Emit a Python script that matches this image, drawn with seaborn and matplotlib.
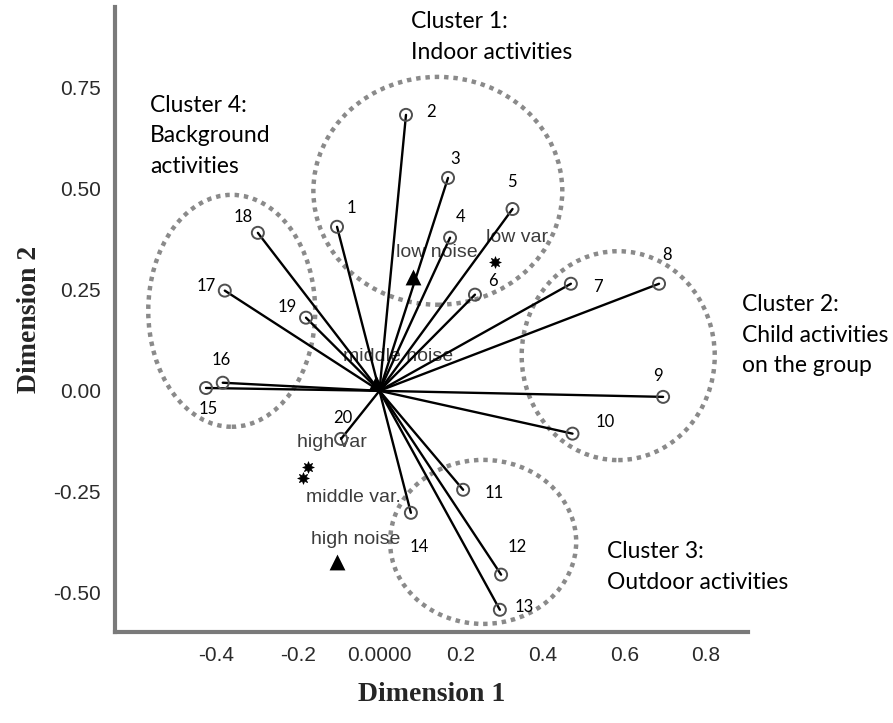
import numpy as np
import pandas as pd
import matplotlib
matplotlib.use("Agg")
import matplotlib.pyplot as plt
import seaborn as sns
from matplotlib.patches import Ellipse

# activity vectors (Dimension 1, Dimension 2)
activity_ids = [str(i) for i in range(1, 21)]
dim1 = [-0.104, 0.065, 0.168, 0.173, 0.326, 0.234, 0.469, 0.685, 0.695, 0.473,
        0.205, 0.298, 0.295, 0.077, -0.425, -0.384, -0.379, -0.298, -0.180, -0.094]
dim2 = [0.406, 0.683, 0.527, 0.379, 0.450, 0.238, 0.265, 0.265, -0.015, -0.106,
        -0.245, -0.455, -0.542, -0.302, 0.007, 0.020, 0.248, 0.391, 0.181, -0.119]

# supplementary category points
noise_names = ["low noise", "middle noise", "high noise"]
noise_dim1 = [0.082, -0.009, -0.104]
noise_dim2 = [0.282, 0.020, -0.423]
var_names = ["low var", "high var", "middle var."]
var_dim1 = [0.283, -0.175, -0.188]
var_dim2 = [0.319, -0.188, -0.215]

x_ticks = [-0.4, -0.2, 0.0, 0.2, 0.4, 0.6, 0.8]
x_ticklabels = ["-0.4", "-0.2", "0.0000", "0.2", "0.4", "0.6", "0.8"]
y_ticks = [-0.50, -0.25, 0.0, 0.25, 0.50, 0.75]
y_ticklabels = ["-0.50", "-0.25", "0.00", "0.25", "0.50", "0.75"]

cluster_texts = ["Cluster 1:\nIndoor activities",
                 "Cluster 2:\nChild activities\non the group",
                 "Cluster 3:\nOutdoor activities",
                 "Cluster 4:\nBackground\nactivities"]

# label offsets in pixels (x right, y up)
id_offsets = [(14, 19), (25, 3), (7, 19), (11, 21), (-1, 27), (18, 14), (27, -3),
              (8, 29), (-5, 21), (33, 12), (31, -3), (16, 28), (24, 3), (8, -34),
              (2, -21), (-2, 23), (-19, 5), (-15, 16), (-19, 11), (2, 21)]
noise_offsets = [(24, 24), (22, 26), (19, 22)]
var_offsets = [(22, 24), (24, 24), (51, -20)]

# dotted cluster outlines: (cx, cy, width, height) in data units
ellipses = [(0.143, 0.495, 0.610, 0.564),
            (0.585, 0.087, 0.473, 0.517),
            (0.254, -0.374, 0.456, 0.406),
            (-0.362, 0.198, 0.409, 0.574)]
# cluster text anchors in figure pixels (left, vertical centre)
text_pos = [(411, 37), (742, 335), (607, 567), (150, 136)]

sns.set_style("white")
plt.rcParams["font.family"] = ["Liberation Sans", "DejaVu Sans"]

W, H = 893, 723
fig = plt.figure(figsize=(W / 100, H / 100), dpi=100)
ax = fig.add_axes([115 / W, (H - 632) / H, (748 - 115) / W, (632 - 7) / H])

# vectors from the origin
seg = pd.DataFrame({
    "x": np.ravel([[0.0, a] for a in dim1]),
    "y": np.ravel([[0.0, b] for b in dim2]),
    "id": np.repeat(activity_ids, 2),
})
sns.lineplot(data=seg, x="x", y="y", units="id", estimator=None, sort=False,
             color="black", linewidth=1.7, ax=ax, zorder=3)

sns.scatterplot(x=dim1, y=dim2, marker="o", s=75, facecolors="none",
                edgecolor="#505050", linewidth=1.4, ax=ax, zorder=4)
sns.scatterplot(x=noise_dim1, y=noise_dim2, marker="^", s=130, color="black",
                edgecolor="black", linewidth=0, ax=ax, zorder=2)
sns.scatterplot(x=var_dim1, y=var_dim2, marker=(8, 1, 0), s=70, color="black",
                edgecolor="black", linewidth=0.5, ax=ax, zorder=2)

for i, lab in enumerate(activity_ids):
    ax.annotate(lab, (dim1[i], dim2[i]), xytext=id_offsets[i], textcoords="offset pixels",
                ha="center", va="center", fontsize=12, family=["Lato", "DejaVu Sans"],
                color="black", zorder=6)
for names, xs, ys, offs in [(noise_names, noise_dim1, noise_dim2, noise_offsets),
                            (var_names, var_dim1, var_dim2, var_offsets)]:
    for n, a, b, o in zip(names, xs, ys, offs):
        ax.annotate(n, (a, b), xytext=o, textcoords="offset pixels", ha="center",
                    va="center", fontsize=14, color="#3c3c3c", zorder=2)

for cx, cy, w, h in ellipses:
    ax.add_patch(Ellipse((cx, cy), w, h, fill=False, edgecolor="#8a8a8a",
                         linewidth=3.2, linestyle=(0, (1, 1.1)), zorder=1, clip_on=False))

for t, (px, py) in zip(cluster_texts, text_pos):
    fig.text(px / W, 1 - py / H, t, ha="left", va="center", fontsize=16.5,
             family=["Lato", "DejaVu Sans"], linespacing=1.58, color="black")

ax.set_xlim(-0.648, 0.903)
ax.set_ylim(-0.597, 0.950)
ax.set_xticks(x_ticks)
ax.set_xticklabels(x_ticklabels)
ax.set_yticks(y_ticks)
ax.set_yticklabels(y_ticklabels)
ax.tick_params(direction="out", length=8, width=1.5, color="#333333",
               labelsize=15, labelcolor="#2a2a2a", pad=2)

for s in ["top", "right"]:
    ax.spines[s].set_visible(False)
for s in ["left", "bottom"]:
    ax.spines[s].set_color("#7a7a7a")
    ax.spines[s].set_linewidth(3)

ax.set_xlabel("Dimension 1", fontsize=20, fontweight="bold",
              family=["Liberation Serif", "DejaVu Serif"], labelpad=12)
ax.set_ylabel("Dimension 2", fontsize=20, fontweight="bold",
              family=["Liberation Serif", "DejaVu Serif"], labelpad=8)

fig.savefig("out.png", dpi=100)
